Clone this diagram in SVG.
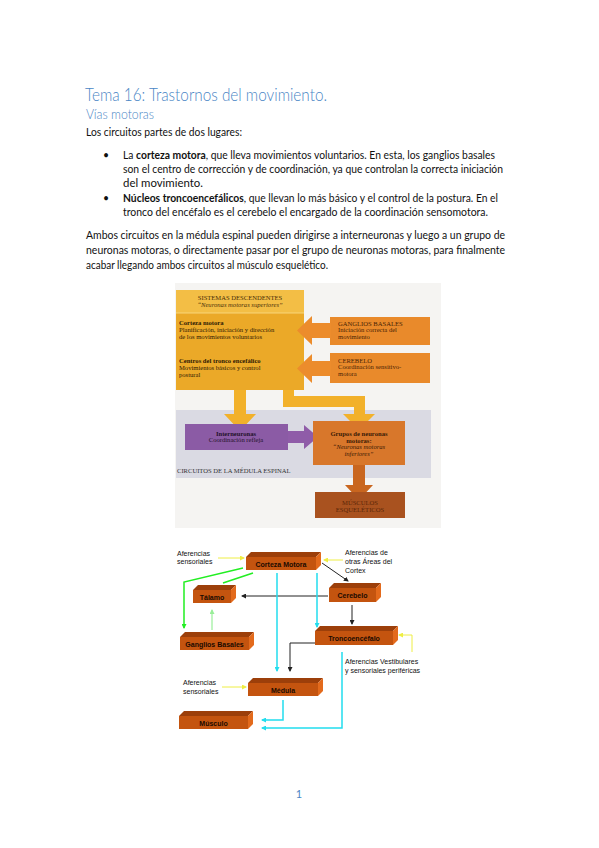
<svg xmlns="http://www.w3.org/2000/svg" width="599" height="848" viewBox="0 0 599 848">
<defs>
<style>
.body{font-family:Lato,"Liberation Sans",sans-serif;font-size:10.5px;fill:#111}
.b{font-weight:bold}
.h1{font-family:Lato,"Liberation Sans",sans-serif;font-size:17px;fill:#4A86C5;font-weight:300}
.h2{font-family:Lato,"Liberation Sans",sans-serif;font-size:13px;fill:#4A86C5;font-weight:300}
.sf{font-family:"Liberation Serif",serif;font-size:6.6px}
.it{font-style:italic}
.nl{font-family:"Liberation Sans",Arial,sans-serif;font-size:7px;font-weight:bold;fill:#1a0a00;text-anchor:middle}
.lb{font-family:"Liberation Sans",Arial,sans-serif;font-size:7px;fill:#111}
.top{fill:#9C3F0A}
.side{fill:#E36A1C}
.front{fill:#C4540F}
.cy{stroke:#22DDEE;stroke-width:1.5;fill:none}
.gr{stroke:#22EE22;stroke-width:1.5;fill:none}
.lg{stroke:#99EE99;stroke-width:1.2;fill:none}
.ye{stroke:#EEEE44;stroke-width:1;fill:none}
.bk{stroke:#222;stroke-width:1;fill:none}
</style>
<marker id="mCy" markerWidth="5" markerHeight="5" refX="4" refY="2.5" orient="auto" markerUnits="userSpaceOnUse"><path d="M0,0 L5,2.5 L0,5 z" fill="#22DDEE"/></marker>
<marker id="mGr" markerWidth="5" markerHeight="5" refX="4" refY="2.5" orient="auto" markerUnits="userSpaceOnUse"><path d="M0,0 L5,2.5 L0,5 z" fill="#22EE22"/></marker>
<marker id="mLg" markerWidth="5" markerHeight="5" refX="4" refY="2.5" orient="auto" markerUnits="userSpaceOnUse"><path d="M0,0 L5,2.5 L0,5 z" fill="#99EE99"/></marker>
<marker id="mYe" markerWidth="5" markerHeight="5" refX="4" refY="2.5" orient="auto" markerUnits="userSpaceOnUse"><path d="M0,0 L5,2.5 L0,5 z" fill="#EEEE44"/></marker>
<marker id="mBk" markerWidth="5" markerHeight="5" refX="4" refY="2.5" orient="auto" markerUnits="userSpaceOnUse"><path d="M0,0 L5,2.5 L0,5 z" fill="#222"/></marker>
</defs>
<rect width="599" height="848" fill="#fff"/>

<g id="text">
<text class="h1" x="85" y="101" textLength="242" lengthAdjust="spacingAndGlyphs">Tema 16: Trastornos del movimiento.</text>
<text class="h2" x="86" y="119" textLength="68" lengthAdjust="spacingAndGlyphs">Vías motoras</text>
<text class="body" x="86" y="136" textLength="156" lengthAdjust="spacingAndGlyphs">Los circuitos partes de dos lugares:</text>
<text class="body" x="103" y="159">•</text>
<text class="body" x="123" y="159" textLength="372" lengthAdjust="spacingAndGlyphs">La <tspan class="b">corteza motora</tspan>, que lleva movimientos voluntarios. En esta, los ganglios basales</text>
<text class="body" x="123" y="173" textLength="380" lengthAdjust="spacingAndGlyphs">son el centro de corrección y de coordinación, ya que controlan la correcta iniciación</text>
<text class="body" x="123" y="187" textLength="80" lengthAdjust="spacingAndGlyphs">del movimiento.</text>
<text class="body" x="103" y="202">•</text>
<text class="body" x="123" y="202" textLength="375" lengthAdjust="spacingAndGlyphs"><tspan class="b">Núcleos troncoencefálicos</tspan>, que llevan lo más básico y el control de la postura. En el</text>
<text class="body" x="123" y="216" textLength="365" lengthAdjust="spacingAndGlyphs">tronco del encéfalo es el cerebelo el encargado de la coordinación sensomotora.</text>
<text class="body" x="86" y="239" textLength="419" lengthAdjust="spacingAndGlyphs">Ambos circuitos en la médula espinal pueden dirigirse a interneuronas y luego a un grupo de</text>
<text class="body" x="86" y="254" textLength="419" lengthAdjust="spacingAndGlyphs">neuronas motoras, o directamente pasar por el grupo de neuronas motoras, para finalmente</text>
<text class="body" x="86" y="269" textLength="242" lengthAdjust="spacingAndGlyphs">acabar llegando ambos circuitos al músculo esquelético.</text>
<text x="299" y="798" font-family="Lato,'Liberation Sans',sans-serif" font-size="11" fill="#4A86C5" text-anchor="middle">1</text>
</g>

<g id="figure1">
<rect x="175" y="283" width="266" height="245" fill="#F5F4F2"/>
<rect x="176" y="410" width="255" height="68" fill="#DADAE3"/>
<rect x="176" y="290" width="128" height="23" fill="#F3BE45"/>
<rect x="176" y="313" width="128" height="77" fill="#EBA928"/>
<line x1="176" y1="313" x2="304" y2="313" stroke="#F8D67A" stroke-width="1"/>
<text class="sf" x="240" y="299.5" text-anchor="middle" fill="#4a2e08">SISTEMAS DESCENDENTES</text>
<text class="sf it" x="240" y="306.5" text-anchor="middle" fill="#4a2e08" font-size="6">“Neuronas motoras superiores”</text>
<text class="sf b" x="179" y="325" fill="#2e1a04">Corteza motora</text>
<text class="sf" x="179" y="332" fill="#2e1a04">Planificación, iniciación y dirección</text>
<text class="sf" x="179" y="339" fill="#2e1a04">de los movimientos voluntarios</text>
<text class="sf b" x="179" y="363" fill="#2e1a04">Centros del tronco encefálico</text>
<text class="sf" x="179" y="370" fill="#2e1a04">Movimientos básicos y control</text>
<text class="sf" x="179" y="377" fill="#2e1a04">postural</text>

<rect x="330" y="317" width="100" height="28" fill="#E98A2B"/>
<rect x="330" y="353" width="100" height="30" fill="#E98A2B"/>
<polygon points="331,323 312,323 312,316 297,330.5 312,345 312,338 331,338" fill="#EC8C2C"/>
<polygon points="331,361 312,361 312,354 297,368.5 312,383 312,376 331,376" fill="#EC8C2C"/>
<text class="sf" x="338" y="325.5" fill="#4a2405">GANGLIOS BASALES</text>
<text class="sf" x="338" y="332" fill="#4a2405">Iniciación correcta del</text>
<text class="sf" x="338" y="338.5" fill="#4a2405">movimiento</text>
<text class="sf" x="338" y="362.5" fill="#4a2405">CEREBELO</text>
<text class="sf" x="338" y="369" fill="#4a2405">Coordinación sensitivo-</text>
<text class="sf" x="338" y="375.5" fill="#4a2405">motora</text>

<polygon points="234,390 246,390 246,414 256,414 240,431 224,414 234,414" fill="#F2B12B"/>
<polygon points="283,390 294,390 294,396 365,396 365,414 375,414 359,430 343,414 354,414 354,407 283,407" fill="#F2B12B"/>

<rect x="185" y="424" width="103" height="26" fill="#8B5BA5"/>
<polygon points="288,431 304,431 304,425 318,437 304,449 304,443 288,443" fill="#8F5CA8"/>
<text class="sf b" x="236" y="435.5" text-anchor="middle" fill="#24112a">Interneuronas</text>
<text class="sf" x="236" y="442" text-anchor="middle" fill="#24112a">Coordinación refleja</text>

<rect x="313" y="421" width="92" height="44" fill="#D8772B"/>
<text class="sf b" x="359" y="436" text-anchor="middle" fill="#3a1a05">Grupos de neuronas</text>
<text class="sf b" x="359" y="442.5" text-anchor="middle" fill="#3a1a05">motoras:</text>
<text class="sf it" x="359" y="449" text-anchor="middle" fill="#3a1a05" font-size="6">“Neuronas motoras</text>
<text class="sf it" x="359" y="455.5" text-anchor="middle" fill="#3a1a05" font-size="6">inferiores”</text>
<text class="sf" x="177" y="473" fill="#333" font-size="6.2">CIRCUITOS DE LA MÉDULA ESPINAL</text>

<polygon points="353,465 365,465 365,485 373,485 359,500 345,485 353,485" fill="#C9661F"/>
<rect x="315" y="492" width="90" height="26" fill="#A9521F"/>
<text class="sf" x="360" y="505" text-anchor="middle" fill="#5a2608" font-size="6.2">MÚSCULOS</text>
<text class="sf" x="360" y="512" text-anchor="middle" fill="#5a2608" font-size="6.2">ESQUELÉTICOS</text>
</g>

<g id="connectors">
<path class="ye" d="M218,558 L244,558" marker-end="url(#mYe)"/>
<path class="ye" d="M343,560 L324,560" marker-end="url(#mYe)"/>
<path class="ye" d="M222,687 L246,687" marker-end="url(#mYe)"/>
<path class="ye" d="M412,652 L412,635 L399,635" marker-end="url(#mYe)"/>
<path class="bk" d="M322,563 L348,581" marker-end="url(#mBk)"/>
<path class="bk" d="M328,596 L242,596" marker-end="url(#mBk)"/>
<path class="bk" d="M352,605 L352,624" marker-end="url(#mBk)"/>
<path class="bk" d="M315,643 L290,643 L290,671" marker-end="url(#mBk)"/>
<path class="cy" d="M277,573 L277,671" marker-end="url(#mCy)"/>
<path class="cy" d="M317,573 L317,627" marker-end="url(#mCy)"/>
<path class="cy" d="M342,652 L342,728 L262,728" marker-end="url(#mCy)"/>
<path class="cy" d="M283,700 L283,720 L262,720" marker-end="url(#mCy)"/>
<path class="gr" d="M243,568 L184,582 L184,628" marker-end="url(#mGr)"/>
<path class="gr" d="M253,573 L223,583"/>
<path class="lg" d="M212,630 L212,610" marker-end="url(#mLg)"/>
</g>

<g id="labels">
<text class="lb" x="177" y="556">Aferencias</text>
<text class="lb" x="177" y="564">sensoriales</text>
<text class="lb" x="345" y="555">Aferencias de</text>
<text class="lb" x="345" y="564">otras Áreas  del</text>
<text class="lb" x="345" y="573">Cortex</text>
<text class="lb" x="345" y="664">Aferencias Vestibulares</text>
<text class="lb" x="345" y="673">y sensoriales periféricas</text>
<text class="lb" x="183" y="685">Aferencias</text>
<text class="lb" x="183" y="694">sensoriales</text>
</g>

<g id="n-corteza">
<polygon class="top" points="246,557 251,552 321,552 316,557"/>
<polygon class="side" points="316,557 321,552 321,565 316,570"/>
<rect class="front" x="246" y="557" width="70" height="13"/>
<text class="nl" x="281" y="566.5">Corteza Motora</text>
</g>
<g id="n-talamo">
<polygon class="top" points="193,590 198,585 236,585 231,590"/>
<polygon class="side" points="231,590 236,585 236,598 231,603"/>
<rect class="front" x="193" y="590" width="38" height="13"/>
<text class="nl" x="212" y="599.5">Tálamo</text>
</g>
<g id="n-cerebelo">
<polygon class="top" points="329,588 334,583 381,583 376,588"/>
<polygon class="side" points="376,588 381,583 381,597 376,602"/>
<rect class="front" x="329" y="588" width="47" height="14"/>
<text class="nl" x="352.5" y="598">Cerebelo</text>
</g>
<g id="n-ganglios">
<polygon class="top" points="180,637 185,632 254,632 249,637"/>
<polygon class="side" points="249,637 254,632 254,645 249,650"/>
<rect class="front" x="180" y="637" width="69" height="13"/>
<text class="nl" x="214.5" y="646.5">Ganglios Basales</text>
</g>
<g id="n-tronco">
<polygon class="top" points="315,631 320,626 398,626 393,631"/>
<polygon class="side" points="393,631 398,626 398,640 393,645"/>
<rect class="front" x="315" y="631" width="78" height="14"/>
<text class="nl" x="354" y="641">Troncoencéfalo</text>
</g>
<g id="n-medula">
<polygon class="top" points="248,683 253,678 323,678 318,683"/>
<polygon class="side" points="318,683 323,678 323,691 318,696"/>
<rect class="front" x="248" y="683" width="70" height="13"/>
<text class="nl" x="283" y="692.5">Médula</text>
</g>
<g id="n-musculo">
<polygon class="top" points="179,716 184,711 253,711 248,716"/>
<polygon class="side" points="248,716 253,711 253,724 248,729"/>
<rect class="front" x="179" y="716" width="69" height="13"/>
<text class="nl" x="213.5" y="725.5">Músculo</text>
</g>
</svg>
